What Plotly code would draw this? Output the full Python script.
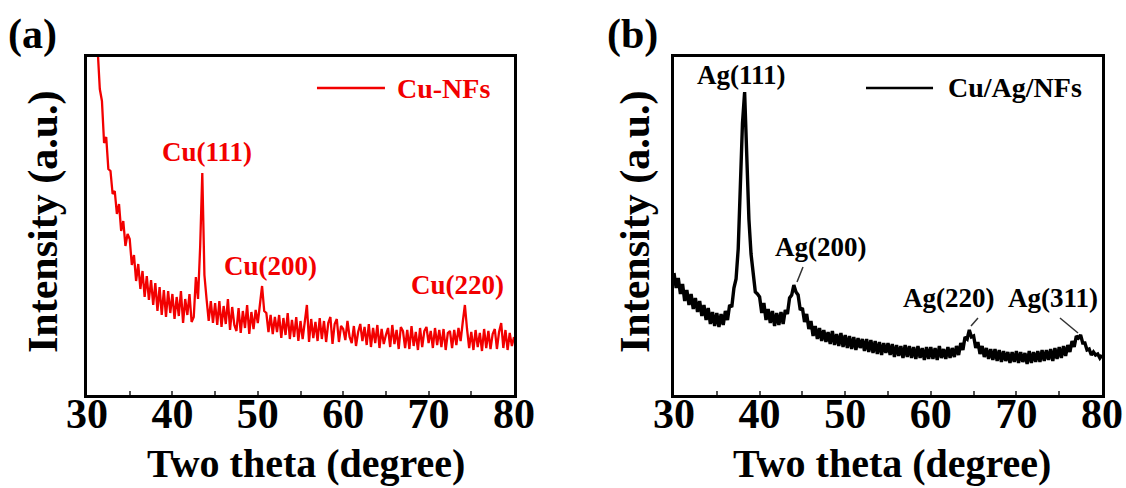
import plotly.graph_objects as go

# ---------------- data ----------------
two_theta = [
    30.00, 30.25, 30.50, 30.75, 31.00, 31.25, 31.50, 31.75, 32.00, 32.25,
    32.50, 32.75, 33.00, 33.25, 33.50, 33.75, 34.00, 34.25, 34.50, 34.75,
    35.00, 35.25, 35.50, 35.75, 36.00, 36.25, 36.50, 36.75, 37.00, 37.25,
    37.50, 37.75, 38.00, 38.25, 38.50, 38.75, 39.00, 39.25, 39.50, 39.75,
    40.00, 40.25, 40.50, 40.75, 41.00, 41.25, 41.50, 41.75, 42.00, 42.25,
    42.50, 42.75, 43.00, 43.25, 43.50, 43.75, 44.00, 44.25, 44.50, 44.75,
    45.00, 45.25, 45.50, 45.75, 46.00, 46.25, 46.50, 46.75, 47.00, 47.25,
    47.50, 47.75, 48.00, 48.25, 48.50, 48.75, 49.00, 49.25, 49.50, 49.75,
    50.00, 50.25, 50.50, 50.75, 51.00, 51.25, 51.50, 51.75, 52.00, 52.25,
    52.50, 52.75, 53.00, 53.25, 53.50, 53.75, 54.00, 54.25, 54.50, 54.75,
    55.00, 55.25, 55.50, 55.75, 56.00, 56.25, 56.50, 56.75, 57.00, 57.25,
    57.50, 57.75, 58.00, 58.25, 58.50, 58.75, 59.00, 59.25, 59.50, 59.75,
    60.00, 60.25, 60.50, 60.75, 61.00, 61.25, 61.50, 61.75, 62.00, 62.25,
    62.50, 62.75, 63.00, 63.25, 63.50, 63.75, 64.00, 64.25, 64.50, 64.75,
    65.00, 65.25, 65.50, 65.75, 66.00, 66.25, 66.50, 66.75, 67.00, 67.25,
    67.50, 67.75, 68.00, 68.25, 68.50, 68.75, 69.00, 69.25, 69.50, 69.75,
    70.00, 70.25, 70.50, 70.75, 71.00, 71.25, 71.50, 71.75, 72.00, 72.25,
    72.50, 72.75, 73.00, 73.25, 73.50, 73.75, 74.00, 74.25, 74.50, 74.75,
    75.00, 75.25, 75.50, 75.75, 76.00, 76.25, 76.50, 76.75, 77.00, 77.25,
    77.50, 77.75, 78.00, 78.25, 78.50, 78.75, 79.00, 79.25, 79.50, 79.75,
    80.00,
]

cu_nfs = [
    500, 472, 436, 408, 368, 345, 306, 294, 252, 258,
    226, 224, 201, 204, 181, 191, 164, 174, 149, 161,
    156, 130, 140, 114, 131, 106, 124, 98, 119, 95,
    115, 90, 112, 84, 108, 80, 105, 78, 104, 82,
    101, 76, 98, 79, 104, 72, 96, 80, 101, 73,
    78, 118, 96, 148, 222, 120, 96, 74, 94, 72,
    92, 70, 94, 68, 89, 71, 96, 65, 88, 70,
    64, 87, 62, 84, 67, 90, 61, 83, 66, 85,
    72, 94, 109, 84, 82, 63, 80, 61, 78, 63,
    80, 57, 77, 60, 82, 56, 75, 58, 78, 54,
    74, 56, 75, 90, 53, 76, 57, 73, 54, 77,
    56, 74, 53, 72, 78, 51, 71, 76, 53, 69,
    66, 55, 74, 58, 52, 69, 49, 63, 71, 54,
    68, 50, 71, 48, 67, 52, 70, 47, 66, 51,
    60, 67, 48, 70, 51, 65, 46, 68, 64, 47,
    65, 46, 69, 49, 63, 45, 67, 48, 64, 68,
    52, 64, 47, 67, 50, 65, 48, 66, 45, 62,
    64, 47, 65, 50, 67, 54, 73, 90, 66, 47,
    63, 45, 65, 48, 62, 44, 66, 47, 64, 46,
    61, 66, 46, 63, 72, 47, 65, 45, 62, 49,
    58,
]

cu_ag_nfs = [
    122, 107, 117, 101, 111, 94, 105, 90, 101, 86,
    97, 83, 94, 79, 90, 75, 87, 71, 83, 69,
    82, 68, 81, 70, 84, 75, 90, 88, 107, 116,
    146, 202, 272, 303, 238, 176, 141, 121, 103, 101,
    98, 82, 92, 75, 86, 72, 84, 69, 82, 70,
    83, 71, 85, 81, 97, 100, 110, 103, 100, 85,
    87, 73, 81, 66, 74, 59, 69, 56, 67, 54,
    65, 53, 63, 51, 64, 50, 61, 49, 62, 48,
    60, 47, 59, 46, 58, 45, 57, 47, 56, 44,
    56, 43, 55, 42, 54, 41, 53, 40, 52, 42,
    52, 40, 51, 38, 50, 39, 49, 37, 50, 38,
    49, 37, 48, 36, 49, 37, 47, 35, 48, 36,
    48, 36, 47, 35, 49, 37, 46, 36, 48, 37,
    47, 38, 49, 40, 52, 45, 58, 56, 65, 58,
    59, 47, 53, 41, 49, 38, 47, 36, 46, 35,
    46, 34, 45, 33, 44, 34, 43, 32, 43, 33,
    44, 32, 43, 33, 42, 31, 44, 32, 43, 33,
    44, 33, 45, 34, 45, 35, 46, 34, 47, 36,
    48, 37, 49, 39, 50, 43, 54, 48, 59, 57,
    60, 52, 52, 45, 46, 40, 43, 40, 41, 37,
    40,
]

x_ticks = [30, 40, 50, 60, 70, 80]
series_names = ["Cu-NFs", "Cu/Ag/NFs"]
cu_peak_labels = ["Cu(111)", "Cu(200)", "Cu(220)"]
cu_peak_pos = [(44.05, 243), (51.43, 129), (73.44, 110)]
ag_peak_labels = ["Ag(111)", "Ag(200)", "Ag(220)", "Ag(311)"]
ag_peak_pos = [(37.94, 320), (47.06, 148), (62.01, 97), (74.28, 97)]
ag_leaders = [((45.07, 128), (44.37, 113)), ((65.51, 77), (64.70, 69)), ((75.09, 77), (77.20, 62))]

RED = "#f20000"
BLACK = "#000000"
FONT = "Liberation Serif"
W, H = 1126, 488

fig = go.Figure()
fig.add_trace(go.Scatter(x=two_theta, y=cu_nfs, mode="lines", name=series_names[0],
                         line=dict(color=RED, width=2.3), xaxis="x", yaxis="y", showlegend=False))
fig.add_trace(go.Scatter(x=two_theta, y=cu_ag_nfs, mode="lines", name=series_names[1],
                         line=dict(color=BLACK, width=3.4), xaxis="x2", yaxis="y2", showlegend=False))

def xax(domain):
    return dict(domain=domain, range=[30, 80], tickvals=x_ticks, ticktext=[str(v) for v in x_ticks],
                ticks="inside", ticklen=4, tickwidth=1.5, tickcolor="#555",
                minor=dict(dtick=5, ticks="inside", ticklen=4, tickcolor="#555"),
                showline=True, mirror=True, linecolor="black", linewidth=2.5,
                showgrid=False, zeroline=False, ticklabelstandoff=-20, automargin=False,
                tickfont=dict(family=FONT, size=42, color="black", weight="bold"))

def yax(domain, anchor):
    return dict(domain=domain, range=[0, 338], showticklabels=False, ticks="",
                showline=True, mirror=True, linecolor="black", linewidth=2.5,
                showgrid=False, zeroline=False, anchor=anchor, automargin=False)

ydom = [1 - 395 / H, 1 - 57 / H]
fig.update_layout(
    width=W, height=H, autosize=False,
    margin=dict(l=0, r=0, t=0, b=0, pad=0, autoexpand=False),
    paper_bgcolor="white", plot_bgcolor="white",
    xaxis=dict(**xax([87 / W, 514 / W]), anchor="y"),
    yaxis=yax(ydom, "x"),
    xaxis2=dict(**xax([674 / W, 1102 / W]), anchor="y2"),
    yaxis2=yax(ydom, "x2"),
    showlegend=False,
)

def pann(text, cx, cy, size, angle=0):
    return dict(text=text, x=cx / W, y=1 - cy / H, xref="paper", yref="paper",
                xanchor="center", yanchor="middle", textangle=angle, showarrow=False,
                font=dict(family=FONT, size=size, color="black"))

ann = []
ann.append(pann("<b>(a)</b>", 32, 34, 42))
ann.append(pann("<b>(b)</b>", 632, 34, 42))
for cx in (306, 892):
    ann.append(pann("<b>Two theta (degree)</b>", cx, 463, 40))
for cx in (43, 635):
    ann.append(pann("<b>Intensity (a.u.)</b>", cx, 222, 42, -90))
for t, (px, py) in zip(cu_peak_labels, cu_peak_pos):
    ann.append(dict(text=f"<b>{t}</b>", x=px, y=py, xref="x", yref="y", showarrow=False,
                    xanchor="center", yanchor="middle", font=dict(family=FONT, size=27, color=RED)))
for t, (px, py) in zip(ag_peak_labels, ag_peak_pos):
    ann.append(dict(text=f"<b>{t}</b>", x=px, y=py, xref="x2", yref="y2", showarrow=False,
                    xanchor="center", yanchor="middle", font=dict(family=FONT, size=27, color="black")))
ann.append(dict(text=f"<b>{series_names[0]}</b>", x=71.8, y=307, xref="x", yref="y", showarrow=False,
                xanchor="center", yanchor="middle", font=dict(family=FONT, size=28, color=RED)))
ann.append(dict(text=f"<b>{series_names[1]}</b>", x=69.84, y=308, xref="x2", yref="y2", showarrow=False,
                xanchor="center", yanchor="middle", font=dict(family=FONT, size=28, color="black")))
fig.update_layout(annotations=ann)

shapes = [
    dict(type="line", xref="x", yref="y", x0=56.93, x1=64.89, y0=307, y1=307, line=dict(color=RED, width=2.5)),
    dict(type="line", xref="x2", yref="y2", x0=52.43, x1=60.26, y0=307, y1=307, line=dict(color="black", width=2.5)),
]
for (a, b) in ag_leaders:
    shapes.append(dict(type="line", xref="x2", yref="y2", x0=a[0], y0=a[1], x1=b[0], y1=b[1],
                       line=dict(color="#333", width=1.5)))
fig.update_layout(shapes=shapes)

fig.write_html("out.html", config={"responsive": False, "displayModeBar": False})
